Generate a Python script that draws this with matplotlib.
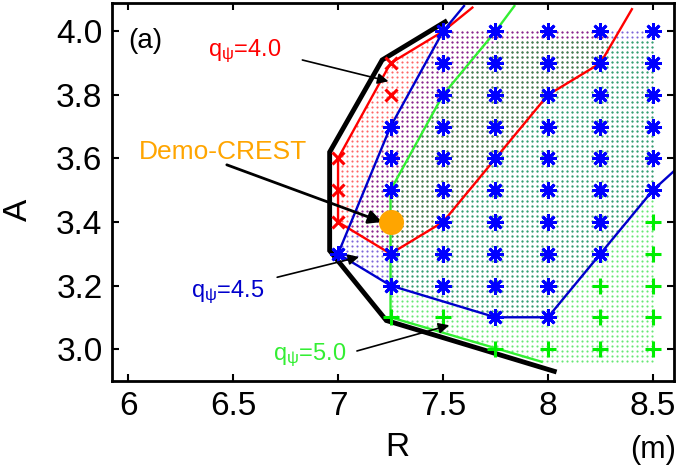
import matplotlib
matplotlib.use("Agg")
import matplotlib.pyplot as plt
import numpy as np
from matplotlib.patches import Polygon

plt.rcParams['font.family'] = ['Liberation Sans', 'DejaVu Sans']
plt.rcParams['mathtext.fontset'] = 'custom'
plt.rcParams['mathtext.rm'] = 'Liberation Sans'
plt.rcParams['mathtext.it'] = 'Liberation Sans:italic'

# %%
# Operating points on the (R, A) scan grid
red_x_R = [7.0, 7.0, 7.0, 7.25, 7.25]
red_x_A = [3.4, 3.5, 3.6, 3.8, 3.9]

# blue points, listed column by column (R: list of A)
blue_cols_R = [7.0, 7.25, 7.5, 7.75, 8.0, 8.25, 8.5]
blue_cols_A = [
    [3.3],
    [3.2, 3.3, 3.5, 3.6, 3.7],
    [3.2, 3.3, 3.4, 3.5, 3.6, 3.7, 3.8, 3.9, 4.0],
    [3.1, 3.2, 3.3, 3.4, 3.5, 3.6, 3.7, 3.8, 3.9, 4.0],
    [3.1, 3.2, 3.3, 3.4, 3.5, 3.6, 3.7, 3.8, 3.9, 4.0],
    [3.3, 3.4, 3.5, 3.6, 3.7, 3.8, 3.9, 4.0],
    [3.5, 3.6, 3.7, 3.8, 3.9, 4.0],
]
blue_star_R = [r for r, col in zip(blue_cols_R, blue_cols_A) for _ in col]
blue_star_A = [a for col in blue_cols_A for a in col]

green_plus_R = [7.25, 7.5, 7.75, 8.0, 8.25, 8.25, 8.25, 8.5, 8.5, 8.5, 8.5, 8.5]
green_plus_A = [3.1, 3.1, 3.0, 3.0, 3.0, 3.1, 3.2, 3.0, 3.1, 3.2, 3.3, 3.4]

# q_psi contour lines
q40_R = [7.64, 7.5, 7.25, 7.0, 7.0, 7.25, 7.5, 7.75, 8.0, 8.25, 8.4]
q40_A = [4.075, 4.0, 3.9, 3.6, 3.4, 3.3, 3.4, 3.6, 3.8, 3.9, 4.07]
q45_R = [7.6, 7.5, 7.25, 7.0, 7.25, 7.75, 8.0, 8.5, 8.6]
q45_A = [4.08, 4.0, 3.7, 3.3, 3.2, 3.1, 3.1, 3.5, 3.56]
q50_R = [7.84, 7.75, 7.5, 7.25, 7.25, 7.97]
q50_A = [4.08, 4.0, 3.8, 3.5, 3.1, 2.96]

# outer boundary
bound_R = [7.51, 7.21, 6.96, 6.96, 7.23, 8.03]
bound_A = [4.03, 3.91, 3.62, 3.31, 3.09, 2.93]

# accessible regions for each q_psi
red_reg_R = [7.5, 7.25, 7.0, 7.0, 7.25, 7.5, 7.75, 8.0, 8.25, 8.3]
red_reg_A = [4.0, 3.9, 3.6, 3.4, 3.3, 3.4, 3.6, 3.8, 3.9, 4.0]
blue_reg_R = [7.5, 7.25, 7.0, 7.25, 7.75, 8.0, 8.5, 8.5]
blue_reg_A = [4.0, 3.7, 3.3, 3.2, 3.1, 3.1, 3.5, 4.0]
green_reg_R = [7.77, 7.5, 7.25, 7.25, 7.97, 8.5, 8.5]
green_reg_A = [3.98, 3.8, 3.5, 3.1, 2.96, 2.96, 3.98]

demo_R, demo_A = 7.25, 3.4


def dotted_region(ax, rr, aa, color, alpha):
    poly = Polygon(np.column_stack([rr, aa]), closed=True)
    gr, ga = np.meshgrid(np.arange(5.9, 8.6, 0.0238), np.arange(2.9, 4.1, 0.0157))
    pts = np.column_stack([gr.ravel(), ga.ravel()])
    inside = poly.get_path().contains_points(pts, radius=1e-6)
    ax.scatter(pts[inside, 0], pts[inside, 1], s=2.4, marker='o', color=color,
               alpha=alpha, linewidths=0, zorder=1)


# %%
fig = plt.figure(figsize=(6.8, 4.69), dpi=100)
ax = fig.add_axes([0.165, 0.188, 0.826, 0.806])

dotted_region(ax, red_reg_R, red_reg_A, (1, 0, 0), 0.6)
dotted_region(ax, blue_reg_R, blue_reg_A, (0.15, 0, 0.75), 0.6)
dotted_region(ax, green_reg_R, green_reg_A, (0, 0.85, 0.1), 0.6)

ax.plot(bound_R, bound_A, color='k', lw=3.5, zorder=2, solid_joinstyle='miter')
ax.plot(q40_R, q40_A, color='#ff0000', lw=1.7, zorder=2)
ax.plot(q45_R, q45_A, color='#0000cc', lw=1.7, zorder=2)
ax.plot(q50_R, q50_A, color='#33ee33', lw=1.7, zorder=2)

ax.plot(blue_star_R, blue_star_A, ls='none', marker=(8, 2, 0), ms=12, mew=2.0,
        color='#0000ff', zorder=3)
ax.plot(red_x_R, red_x_A, ls='none', marker='x', ms=9, mew=2.2, color='#ff0000', zorder=3)
ax.plot(green_plus_R, green_plus_A, ls='none', marker='+', ms=12, mew=2.2,
        color='#00ee00', zorder=3)
ax.plot(demo_R, demo_A, 'o', ms=18, color='#ffa500', mec='none', zorder=4)

arrow = dict(arrowstyle='-|>', color='k', lw=1.2, mutation_scale=16, shrinkA=0, shrinkB=0)
ax.annotate('', xy=(7.24, 3.843), xytext=(6.83, 3.91), arrowprops=arrow)
ax.annotate('', xy=(7.10, 3.29), xytext=(6.71, 3.226), arrowprops=arrow)
ax.annotate('', xy=(7.53, 3.075), xytext=(7.09, 2.994), arrowprops=arrow)
ax.annotate('', xy=(7.21, 3.40), xytext=(6.47, 3.58),
            arrowprops=dict(arrow, lw=2.0, mutation_scale=20))

ax.text(6.38, 3.937, r'q$_{\mathrm{\psi}}$=4.0', color='#ff0000', fontsize=17, va='center')
ax.text(6.30, 3.18, r'q$_{\mathrm{\psi}}$=4.5', color='#0000cc', fontsize=17, va='center')
ax.text(6.69, 2.98, r'q$_{\mathrm{\psi}}$=5.0', color='#33ee33', fontsize=17, va='center')
ax.text(6.45, 3.62, 'Demo-CREST', color='#ffa500', fontsize=19, ha='center', va='center')
ax.text(6.0, 3.97, '(a)', fontsize=20, va='center')

ax.set_xlim(5.924, 8.6)
ax.set_ylim(2.90, 4.09)
ax.set_xticks([6, 6.5, 7, 7.5, 8, 8.5])
ax.set_xticklabels(['6', '6.5', '7', '7.5', '8', '8.5'])
ax.set_yticks([3.0, 3.2, 3.4, 3.6, 3.8, 4.0])
ax.set_yticklabels(['3.0', '3.2', '3.4', '3.6', '3.8', '4.0'])
ax.tick_params(direction='in', length=5, width=1.5, top=True, right=True,
               labelsize=24, pad=7)
for s in ax.spines.values():
    s.set_linewidth(2)

fig.text(0.585, 0.045, 'R', fontsize=24, ha='center', va='center')
fig.text(0.027, 0.552, 'A', fontsize=24, ha='center', va='center', rotation=90)
fig.text(0.96, 0.04, '(m)', fontsize=22, ha='center', va='center')

fig.savefig('out.png', dpi=100)
